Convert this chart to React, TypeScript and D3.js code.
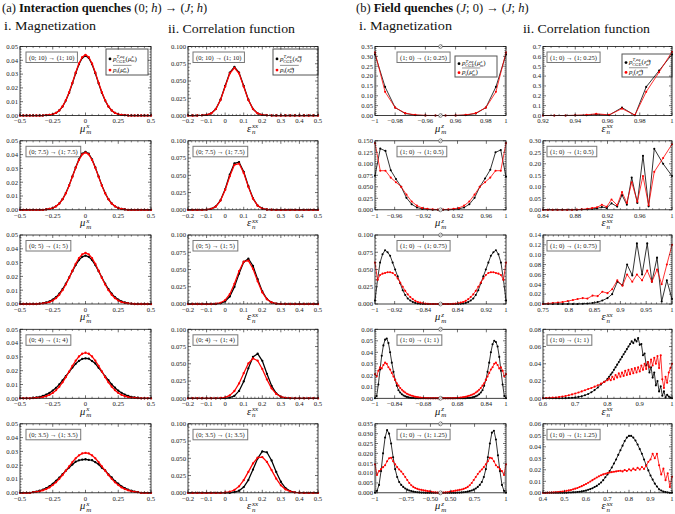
import React, { useLayoutEffect, useRef, useState } from "react";
import * as d3 from "d3";

const FONT = "'Liberation Serif', 'DejaVu Serif', serif";
const RED = "#ff0000";

// ---------------- layout ----------------
const ROW_TOP = [46.5, 140.8, 235, 329.3, 423.8];
const PH = 69;
const COL_X = [20, 188, 375, 543];
const COL_W = [131, 130, 131, 129];

// ---------------- (a) i. magnetization ----------------
const MU_X = [-0.5,-0.475,-0.45,-0.425,-0.4,-0.375,-0.35,-0.325,-0.3,-0.275,-0.25,-0.225,-0.2,-0.175,-0.15,-0.125,-0.1,-0.075,-0.05,-0.025,0,0.025,0.05,0.075,0.1,0.125,0.15,0.175,0.2,0.225,0.25,0.275,0.3,0.325,0.35,0.375,0.4,0.425,0.45,0.475,0.5];
const MAG_H10_CGE = [0,0,0,0,0,0,0,0,.0002,.0004,.0009,.0019,.0037,.0065,.0108,.0165,.0233,.0306,.0371,.0417,.0433,.0417,.0371,.0306,.0233,.0165,.0108,.0065,.0037,.0019,.0009,.0004,.0002,0,0,0,0,0,0,0,0];
const MAG_H10_T = [0,0,0,0,0,0,0,0,.0002,.0004,.0009,.0019,.0037,.0066,.0110,.0168,.0237,.0311,.0377,.0423,.0440,.0423,.0377,.0311,.0237,.0168,.0110,.0066,.0037,.0019,.0009,.0004,.0002,0,0,0,0,0,0,0,0];
const MAG_H75_CGE = [0,0,0,0,0,0,0,0,.0003,.0006,.0013,.0025,.0046,.0077,.0121,.0177,.0242,.0307,.0366,.0406,.0420,.0406,.0366,.0307,.0242,.0177,.0121,.0077,.0046,.0025,.0013,.0006,.0003,0,0,0,0,0,0,0,0];
const MAG_H75_T = [0,0,0,0,0,0,0,0,.0003,.0006,.0013,.0025,.0045,.0076,.0119,.0175,.0239,.0304,.0361,.0401,.0415,.0401,.0361,.0304,.0239,.0175,.0119,.0076,.0045,.0025,.0013,.0006,.0003,0,0,0,0,0,0,0,0];
const MAG_H5_CGE = [0,0,0,0,0,0,.0003,.0006,.0011,.0019,.0032,.0050,.0075,.0108,.0147,.0192,.0238,.0282,.0318,.0342,.0350,.0342,.0318,.0282,.0238,.0192,.0147,.0108,.0075,.0050,.0032,.0019,.0011,.0006,.0003,0,0,0,0,0,0];
const MAG_H5_T = [0,0,0,0,0,0,.0002,.0004,.0008,.0014,.0025,.0042,.0067,.0100,.0141,.0189,.0241,.0291,.0332,.0360,.0370,.0360,.0332,.0291,.0241,.0189,.0141,.0100,.0067,.0042,.0025,.0014,.0008,.0004,.0002,0,0,0,0,0,0];
const MAG_H4_CGE = [0,0,0,0,.0004,.0007,.0011,.0018,.0027,.0039,.0056,.0076,.0101,.0129,.0160,.0192,.0223,.0250,.0271,.0285,.0290,.0287,.0270,.0252,.0221,.0194,.0158,.0131,.0100,.0077,.0055,.0040,.0027,.0018,.0011,.0007,.0004,0,0,0,0];
const MAG_H4_T = [0,0,0,0,.0001,.0003,.0005,.0009,.0015,.0025,.0039,.0059,.0084,.0116,.0153,.0194,.0235,.0272,.0303,.0323,.0330,.0323,.0303,.0272,.0235,.0194,.0153,.0116,.0084,.0059,.0039,.0025,.0015,.0009,.0005,.0003,.0001,0,0,0,0];
const MAG_H35_CGE = [0,0,0,0,.0005,.0009,.0015,.0023,.0034,.0048,.0065,.0087,.0110,.0135,.0160,.0183,.0205,.0225,.0235,.0240,.0243,.0238,.0236,.0222,.0207,.0181,.0162,.0133,.0112,.0085,.0066,.0047,.0034,.0023,.0015,.0009,.0005,0,0,0,0];
const MAG_H35_T = [0,0,0,0,.0004,.0007,.0011,.0018,.0027,.0039,.0056,.0076,.0101,.0129,.0160,.0192,.0223,.0250,.0271,.0285,.0290,.0285,.0271,.0250,.0223,.0192,.0160,.0129,.0101,.0076,.0056,.0039,.0027,.0018,.0011,.0007,.0004,0,0,0,0];

// ---------------- (a) ii. correlation ----------------
const EPS_X = [-0.2,-0.175,-0.15,-0.125,-0.1,-0.075,-0.05,-0.025,0,0.025,0.05,0.075,0.1,0.125,0.15,0.175,0.2,0.225,0.25,0.275,0.3,0.325,0.35,0.375,0.4,0.425,0.45,0.475,0.5];
const COR_H10_CGE = [0,0,0,.0002,.0008,.0031,.0095,.0229,.0428,.0622,.0705,.0622,.0428,.0229,.0095,.0031,.0008,.0002,0,0,0,0,0,0,0,0,0,0,0];
const COR_H10_T = [0,0,0,.0002,.0008,.0030,.0093,.0224,.0419,.0609,.0690,.0609,.0419,.0224,.0093,.0030,.0008,.0002,0,0,0,0,0,0,0,0,0,0,0];
const COR_H75_CGE = [0,0,0,0,.0003,.0014,.0049,.0137,.0297,.0511,.0673,.0690,.0551,.0343,.0166,.0061,.0018,.0004,.0001,0,0,0,0,0,0,0,0,0,0];
const COR_H75_T = [0,0,0,0,.0003,.0013,.0047,.0133,.0288,.0486,.0652,.0670,.0535,.0332,.0161,.0060,.0017,.0004,.0001,0,0,0,0,0,0,0,0,0,0];
const COR_H5_CGE = [0,0,0,0,0,0,0,.0010,.0037,.0109,.0248,.0440,.0609,.0657,.0551,.0360,.0183,.0073,.0022,.0005,.0001,0,0,0,0,0,0,0,0];
const COR_H5_T = [0,0,0,0,0,0,.0004,.0017,.0055,.0143,.0293,.0476,.0614,.0628,.0510,.0329,.0168,.0068,.0022,.0006,.0001,0,0,0,0,0,0,0,0];
const COR_H4_CGE = [0,0,0,0,0,0,0,0,0,.0010,.0036,.0107,.0244,.0434,.0600,.0647,.0543,.0355,.0181,.0072,.0022,.0005,.0001,0,0,0,0,0,0];
const COR_H4_T = [0,0,0,0,0,0,0,.0004,.0014,.0043,.0106,.0216,.0364,.0505,.0578,.0545,.0425,.0273,.0144,.0063,.0023,.0007,.0002,0,0,0,0,0,0];
const COR_H35_CGE = [0,0,0,0,0,0,0,0,0,0,.0009,.0030,.0083,.0185,.0337,.0498,.0600,.0587,.0468,.0303,.0160,.0069,.0024,.0007,.0002,0,0,0,0];
const COR_H35_T = [0,0,0,0,0,0,0,0,.0005,.0015,.0041,.0094,.0183,.0303,.0426,.0510,.0518,.0448,.0329,.0205,.0109,.0049,.0019,.0006,.0002,0,0,0,0];

// ---------------- (b) i. magnetization (bins in index order) ----------------
const FMAG_H025_CGE = [.31,.145,.04,.01,.002,0,0,0,0,.002,.01,.04,.145,.31];
const FMAG_H025_T = [.32,.12,.04,.012,.003,.0005,0,0,.0005,.003,.012,.04,.12,.32];
const FMAG_H05_CGE = [.074,.133,.128,.086,.067,.05,.026,.012,.005,.002,.001,0,0,0,0,.001,.002,.005,.012,.026,.05,.068,.087,.125,.13,.072];
const FMAG_H05_T = [.145,.085,.085,.07,.06,.05,.033,.018,.009,.004,.002,.001,.0005,.0005,.001,.002,.004,.009,.018,.033,.05,.06,.07,.085,.085,.145];
const FMAG_H075_CGE = [.005,.035,.06,.072,.078,.075,.07,.06,.05,.04,.03,.02,.013,.008,.005,.003,.0015,.0008,.0004,.0002,0,0,0,0,0,0,0,0,0,0,0,0,0,.0002,.0004,.0008,.0015,.003,.005,.008,.013,.02,.03,.04,.05,.06,.07,.075,.078,.072,.06,.035,.005];
const FMAG_H075_T = [.06,.035,.042,.044,.045,.046,.046,.045,.042,.037,.031,.025,.019,.014,.01,.007,.0045,.003,.002,.001,.0006,.0003,0,0,0,0,0,0,0,0,0,.0003,.0006,.001,.002,.003,.0045,.007,.01,.014,.019,.025,.031,.037,.042,.045,.046,.046,.045,.044,.042,.035,.06];
const FMAG_H1_CGE = [0,.002,.012,.025,.037,.046,.051,.052,.048,.04,.031,.023,.016,.011,.007,.005,.0035,.0025,.0017,.0012,.0008,.0005,.0003,.0002,.0001,.0001,0,0,0,0,0,0,0,0,0,0,0,0,0,0,0,0,0,0,0,0,0,0,0,0,0,0,0,.0001,.0001,.0002,.0003,.0005,.0008,.0012,.0017,.0025,.0035,.005,.007,.011,.016,.023,.031,.04,.047,.05,.049,.045,.036,.024,.012,.002,0];
const FMAG_H1_T = [.021,.019,.024,.027,.026,.029,.031,.03,.027,.025,.022,.019,.016,.013,.011,.009,.0075,.006,.005,.004,.0033,.0027,.0022,.0018,.0014,.0011,.0008,.0006,.0004,.0003,.0002,.0001,0,0,0,0,0,0,0,0,0,0,0,0,0,0,0,.0001,.0002,.0003,.0004,.0006,.0008,.0011,.0014,.0018,.0022,.0027,.0033,.004,.005,.006,.0075,.009,.011,.013,.016,.019,.022,.025,.027,.03,.031,.029,.026,.027,.024,.019,.021];
const FMAG_H125_CGE = [0,.001,.004,.011,.02,.028,.0318,.03,.025,.018,.012,.008,.0055,.004,.003,.0022,.0016,.0012,.0009,.0006,.0004,.0003,.0002,.0001,.0001,0,0,0,0,0,0,0,0,0,0,0,0,0,0,0,0,.0001,.0001,.0002,.0003,.0004,.0006,.0009,.0012,.0016,.0022,.003,.004,.0055,.008,.012,.018,.025,.0305,.0315,.027,.019,.011,.004,.001,0];
const FMAG_H125_T = [.0145,.009,.011,.012,.013,.014,.016,.0175,.0178,.016,.0145,.013,.0118,.0108,.0095,.008,.0065,.005,.0038,.003,.0024,.002,.0017,.0015,.0013,.0011,.0009,.0007,.0005,.0003,.0002,.0001,.0001,.0001,.0001,.0002,.0003,.0005,.0007,.0009,.0011,.0013,.0015,.0017,.002,.0024,.003,.0038,.005,.0065,.008,.0095,.0108,.0118,.013,.0145,.016,.0178,.0175,.016,.014,.013,.012,.011,.009,.0145];

// tick positions (bin index) and labels for the broken mu^z axes
const FMAG_TICKS_POS = [
  [0, 2, 5, 8, 11, 13],
  [0, 3.75, 9.25, 15.75, 21.25, 25],
  [0, 7.8, 19.2, 32.8, 44.2, 52],
  [0, 11.7, 28.9, 49.1, 66.3, 78],
  [0, 15.6, 27.5, 37.5, 49.4, 65],
];
const FMAG_TICKS_LAB = [
  ["−1", "−0.98", "−0.96", "0.96", "0.98", "1"],
  ["−1", "−0.96", "−0.92", "0.92", "0.96", "1"],
  ["−1", "−0.92", "−0.84", "0.84", "0.92", "1"],
  ["−1", "−0.84", "−0.68", "0.68", "0.84", "1"],
  ["−1", "−0.75", "−0.50", "0.50", "0.75", "1"],
];

// ---------------- (b) ii. correlation ----------------
const FCOR_H025_X = [0.92,0.927,0.934,0.94,0.947,0.953,0.961,0.969,0.977,0.984,0.992,1.0];
const FCOR_H025_CGE = [0,0,0,.001,.003,.01,.004,.08,.002,.29,.455,.62];
const FCOR_H025_T = [0,0,0,.002,.006,.018,.006,.07,.004,.24,.44,.645];
const FCOR_H05_X = [0.84,0.846,0.852,0.858,0.864,0.87,0.876,0.882,0.888,0.895,0.901,0.907,0.913,0.919,0.925,0.932,0.938,0.944,0.95,0.957,0.964,0.971,0.978,0.989,1.0];
const FCOR_H05_CGE = [0,0,0,0,0,0,0,0,.001,.002,.004,.006,.012,.008,.028,.014,.064,.022,.14,.03,.235,.015,.265,.2,.147];
const FCOR_H05_T = [0,0,0,0,0,0,0,.001,.002,.004,.008,.011,.022,.013,.045,.02,.077,.03,.12,.035,.147,.02,.165,.225,.285];
const FCOR_H075_X = [0.75,0.76,0.769,0.779,0.788,0.798,0.808,0.817,0.827,0.836,0.846,0.856,0.865,0.875,0.884,0.894,0.904,0.913,0.923,0.932,0.942,0.952,0.961,0.971,0.98,0.99,1.0];
const FCOR_H075_CGE = [0,0,0,0,0,0,0,0,.0005,.001,.002,.004,.007,.012,.02,.045,.038,.08,.058,.123,.06,.123,.045,.094,.005,.048,.01];
const FCOR_H075_T = [0,.001,.002,.003,.004,.006,.008,.01,.012,.011,.017,.016,.025,.022,.03,.048,.037,.06,.045,.06,.048,.068,.045,.07,.04,.08,.12];
const FCOR_H1_X = [0.6,0.61,0.62,0.63,0.64,0.65,0.66,0.67,0.68,0.69,0.7,0.71,0.72,0.73,0.74,0.75,0.76,0.77,0.78,0.79,0.8,0.805,0.81,0.815,0.82,0.825,0.83,0.835,0.84,0.845,0.85,0.855,0.86,0.865,0.87,0.875,0.88,0.885,0.89,0.895,0.9,0.905,0.91,0.915,0.92,0.925,0.93,0.935,0.94,0.945,0.95,0.955,0.96,0.965,0.97,0.975,0.98,0.985,0.99,0.995,1.0];
const FCOR_H1_CGE = [0,0,0,0,0,0,0,.0002,.0004,.0007,.001,.0016,.0024,.0035,.005,.007,.0095,.0125,.016,.019,.0225,.025,.0275,.030,.033,.036,.039,.042,.045,.048,.051,.054,.057,.060,.063,.066,.064,.068,.066,.070,.062,.063,.050,.052,.038,.042,.030,.036,.024,.030,.015,.020,.008,.014,.003,.008,.001,.004,.002,.001,0];
const FCOR_H1_T = [0,.0003,.0005,.0008,.001,.0015,.002,.0027,.0035,.0045,.0055,.0067,.008,.0093,.0107,.012,.0135,.015,.017,.019,.021,.023,.021,.025,.022,.027,.024,.029,.025,.030,.026,.032,.027,.033,.028,.034,.029,.035,.030,.036,.031,.038,.033,.040,.034,.042,.036,.045,.038,.047,.040,.049,.035,.050,.022,.012,.025,.018,.03,.035,.04];
const FCOR_H125_X = [0.4,0.41,0.42,0.43,0.44,0.45,0.46,0.47,0.48,0.49,0.5,0.51,0.52,0.53,0.54,0.55,0.56,0.57,0.58,0.59,0.6,0.61,0.62,0.63,0.64,0.65,0.66,0.67,0.68,0.69,0.7,0.71,0.72,0.73,0.74,0.75,0.76,0.77,0.78,0.79,0.8,0.81,0.82,0.83,0.84,0.85,0.86,0.87,0.88,0.89,0.9,0.91,0.92,0.93,0.94,0.95,0.96,0.97,0.98,0.99,1.0];
const FCOR_H125_CGE = [0,0,0,0,0,0,0,0,0,0,0,.0001,.0002,.0003,.0004,.0005,.0007,.0009,.0012,.0016,.002,.0026,.0032,.004,.005,.006,.0075,.009,.011,.0135,.016,.019,.022,.0255,.029,.033,.037,.041,.045,.048,.0495,.0495,.048,.0455,.042,.038,.034,.029,.024,.0195,.015,.0115,.008,.0055,.003,.002,.001,.0006,.0003,.0001,0];
const FCOR_H125_T = [0,.0001,.0001,.0002,.0003,.0004,.0005,.0007,.0009,.0011,.0014,.0017,.0021,.0025,.003,.0036,.0042,.005,.0058,.0067,.0077,.0087,.0098,.011,.0122,.0133,.0143,.0152,.016,.0166,.0172,.0176,.018,.0183,.0186,.0189,.0192,.0186,.0198,.019,.0204,.0194,.021,.0198,.0218,.0202,.0225,.0208,.0235,.027,.029,.034,.03,.034,.024,.016,.021,.011,.017,.005,.014];

// ---------------- ticks & labels ----------------
const A_QUENCH = ["(0; 10) → (1; 10)", "(0; 7.5) → (1; 7.5)", "(0; 5) → (1; 5)", "(0; 4) → (1; 4)", "(0; 3.5) → (1; 3.5)"];
const B_QUENCH = ["(1; 0) → (1; 0.25)", "(1; 0) → (1; 0.5)", "(1; 0) → (1; 0.75)", "(1; 0) → (1; 1)", "(1; 0) → (1; 1.25)"];

const MU_XTICKS = [-0.5, -0.25, 0, 0.25, 0.5];
const MU_XLABELS = ["−0.5", "−0.25", "0", "0.25", "0.5"];
const MU_YTICKS = [0, 0.01, 0.02, 0.03, 0.04, 0.05];
const EPS_XTICKS = [-0.2, -0.1, 0, 0.1, 0.2, 0.3, 0.4, 0.5];
const EPS_XLABELS = ["−0.2", "−0.1", "0", "0.1", "0.2", "0.3", "0.4", "0.5"];
const EPS_YTICKS = [0, 0.025, 0.05, 0.075, 0.1];

const FMAG_YTICKS = [
  [0, 0.05, 0.1, 0.15, 0.2, 0.25, 0.3, 0.35],
  [0, 0.025, 0.05, 0.075, 0.1, 0.125, 0.15],
  [0, 0.025, 0.05, 0.075, 0.1],
  [0, 0.01, 0.02, 0.03, 0.04, 0.05, 0.06],
  [0, 0.005, 0.01, 0.015, 0.02, 0.025, 0.03, 0.035],
];
const FMAG_YDEC = [2, 3, 3, 2, 3];

const FCOR_XTICKS = [
  [0.92, 0.94, 0.96, 0.98, 1],
  [0.84, 0.88, 0.92, 0.96, 1],
  [0.75, 0.8, 0.85, 0.9, 0.95, 1],
  [0.6, 0.7, 0.8, 0.9, 1],
  [0.4, 0.5, 0.6, 0.7, 0.8, 0.9, 1],
];
const FCOR_XLABELS = [
  ["0.92", "0.94", "0.96", "0.98", "1"],
  ["0.84", "0.88", "0.92", "0.96", "1"],
  ["0.75", "0.8", "0.85", "0.9", "0.95", "1"],
  ["0.6", "0.7", "0.8", "0.9", "1"],
  ["0.4", "0.5", "0.6", "0.7", "0.8", "0.9", "1"],
];
const FCOR_YTICKS = [
  [0, 0.1, 0.2, 0.3, 0.4, 0.5, 0.6, 0.7],
  [0, 0.05, 0.1, 0.15, 0.2, 0.25, 0.3],
  [0, 0.02, 0.04, 0.06, 0.08, 0.1, 0.12, 0.14],
  [0, 0.02, 0.04, 0.06, 0.08],
  [0, 0.01, 0.02, 0.03, 0.04, 0.05, 0.06],
];
const FCOR_YDEC = [1, 2, 2, 2, 2];

// ---------------- panel table built from arrays ----------------
type Series = { x: number[]; y: number[]; color: string };
type PanelSpec = {
  col: number; row: number;
  xDomain: [number, number]; xTicks: number[]; xLabels: string[]; xMinor: boolean;
  yTicks: number[]; yDec: number;
  series: Series[]; quench: string; brk: boolean; dense: boolean;
};

const idx = (arr: number[]) => arr.map((_, i) => i);

const MAG_A = [[MAG_H10_CGE, MAG_H10_T], [MAG_H75_CGE, MAG_H75_T], [MAG_H5_CGE, MAG_H5_T], [MAG_H4_CGE, MAG_H4_T], [MAG_H35_CGE, MAG_H35_T]];
const COR_A = [[COR_H10_CGE, COR_H10_T], [COR_H75_CGE, COR_H75_T], [COR_H5_CGE, COR_H5_T], [COR_H4_CGE, COR_H4_T], [COR_H35_CGE, COR_H35_T]];
const MAG_B = [[FMAG_H025_CGE, FMAG_H025_T], [FMAG_H05_CGE, FMAG_H05_T], [FMAG_H075_CGE, FMAG_H075_T], [FMAG_H1_CGE, FMAG_H1_T], [FMAG_H125_CGE, FMAG_H125_T]];
const COR_B = [[FCOR_H025_X, FCOR_H025_CGE, FCOR_H025_T], [FCOR_H05_X, FCOR_H05_CGE, FCOR_H05_T], [FCOR_H075_X, FCOR_H075_CGE, FCOR_H075_T], [FCOR_H1_X, FCOR_H1_CGE, FCOR_H1_T], [FCOR_H125_X, FCOR_H125_CGE, FCOR_H125_T]];

const PANELS: PanelSpec[] = [];
for (let r = 0; r < 5; r++) {
  PANELS.push({
    col: 0, row: r, xDomain: [-0.5, 0.5], xTicks: MU_XTICKS, xLabels: MU_XLABELS, xMinor: true,
    yTicks: MU_YTICKS, yDec: 2, quench: A_QUENCH[r], brk: false, dense: true,
    series: [{ x: MU_X, y: MAG_A[r][0], color: "#000" }, { x: MU_X, y: MAG_A[r][1], color: RED }],
  });
  PANELS.push({
    col: 1, row: r, xDomain: [-0.2, 0.5], xTicks: EPS_XTICKS, xLabels: EPS_XLABELS, xMinor: true,
    yTicks: EPS_YTICKS, yDec: 3, quench: A_QUENCH[r], brk: false, dense: true,
    series: [{ x: EPS_X, y: COR_A[r][0], color: "#000" }, { x: EPS_X, y: COR_A[r][1], color: RED }],
  });
  const n = MAG_B[r][0].length;
  PANELS.push({
    col: 2, row: r, xDomain: [0, n - 1], xTicks: FMAG_TICKS_POS[r], xLabels: FMAG_TICKS_LAB[r], xMinor: false,
    yTicks: FMAG_YTICKS[r], yDec: FMAG_YDEC[r], quench: B_QUENCH[r], brk: true, dense: false,
    series: [{ x: idx(MAG_B[r][0]), y: MAG_B[r][0], color: "#000" }, { x: idx(MAG_B[r][1]), y: MAG_B[r][1], color: RED }],
  });
  const xt = FCOR_XTICKS[r];
  PANELS.push({
    col: 3, row: r, xDomain: [xt[0], xt[xt.length - 1]], xTicks: xt, xLabels: FCOR_XLABELS[r], xMinor: true,
    yTicks: FCOR_YTICKS[r], yDec: FCOR_YDEC[r], quench: B_QUENCH[r], brk: false, dense: false,
    series: [{ x: COR_B[r][0], y: COR_B[r][1], color: "#000" }, { x: COR_B[r][0], y: COR_B[r][2], color: RED }],
  });
}

// ---------------- components ----------------
function QuenchBox({ x, y, text }: { x: number; y: number; text: string }) {
  const ref = useRef<SVGTextElement>(null);
  const [w, setW] = useState(50);
  useLayoutEffect(() => {
    if (ref.current) setW(ref.current.getComputedTextLength());
  }, [text]);
  return (
    <g>
      <rect x={x} y={y} width={w + 6} height={10.5} fill="#fff" stroke="#777" strokeWidth={1} />
      <text ref={ref} x={x + 3} y={y + 7.5} fontFamily={FONT} fontSize={6.6} fill="#222">{text}</text>
    </g>
  );
}

function minorTicks(ticks: number[], sub: number) {
  const out: number[] = [];
  for (let i = 0; i < ticks.length - 1; i++) {
    const a = ticks[i], b = ticks[i + 1];
    for (let j = 1; j < sub; j++) out.push(a + ((b - a) * j) / sub);
  }
  return out;
}

function AxisSymbol({ cx, y, base, sup, sub }: { cx: number; y: number; base: string; sup: string; sub: string }) {
  const baseW = base === "μ" ? 6 : 4.6;
  const supW = sup.length * 3.6;
  const subW = sub.length * 5;
  const total = baseW + Math.max(supW, subW);
  const x = cx - total / 2;
  return (
    <g fontFamily={FONT} fontStyle="italic" fill="#111">
      <text x={x} y={y} fontSize={10.5}>{base}</text>
      <text x={x + baseW + 0.3} y={y - 3.4} fontSize={7}>{sup}</text>
      <text x={x + baseW + 0.3} y={y + 2.6} fontSize={7}>{sub}</text>
    </g>
  );
}

function LegendLabel({ x, y, v, sup, sub, cge, onW }: { x: number; y: number; v: string; sup: string; sub: string; cge: boolean; onW?: (w: number) => void }) {
  const ref = useRef<SVGTextElement>(null);
  useLayoutEffect(() => {
    if (ref.current && onW) onW(ref.current.getComputedTextLength());
  }, []);
  const fs = 7;
  const ss = 4.7;
  const supW = sup.length * 2.4;
  return (
    <text ref={ref} x={x} y={y} fontFamily={FONT} fontSize={fs} fill="#111">
      <tspan fontStyle="italic">p</tspan>
      {cge ? (
        <>
          <tspan dy={-2.9} fontSize={ss} fontStyle="italic">T,eq</tspan>
          <tspan dx={-8.2} dy={4.9} fontSize={ss}>CGE</tspan>
          <tspan dy={-2}>(</tspan>
        </>
      ) : (
        <>
          <tspan dy={1.4} fontSize={ss}>t</tspan>
          <tspan dy={-1.4}>(</tspan>
        </>
      )}
      <tspan fontStyle="italic">{v}</tspan>
      <tspan dy={-2.3} fontSize={ss} fontStyle="italic">{sup}</tspan>
      <tspan dx={-supW} dy={3.9} fontSize={ss} fontStyle="italic">{sub}</tspan>
      <tspan dy={-1.6}>)</tspan>
    </text>
  );
}

function Legend({ col, x, y, w, h, v }: { col: number; x: number; y: number; w: number; h: number; v: string }) {
  const sup = col === 2 ? "z" : col === 0 ? "x" : "xx";
  const sub = v === "μ" ? "m" : "n";
  const [ow, setOw] = useState(22);
  const y1 = y + h * 0.45;
  const y2 = y + h * 0.88;
  return (
    <g>
      <rect x={x} y={y} width={w} height={h} fill="#fff" stroke="#555" strokeWidth={1} />
      <circle cx={x + 4} cy={y1 - 1.8} r={1.4} fill="#000" />
      <LegendLabel x={x + 7} y={y1} v={v} sup={sup} sub={sub} cge={true} />
      <circle cx={x + 4} cy={y2 - 1.8} r={1.4} fill={RED} />
      <line x1={x + 7} x2={x + 7 + ow} y1={y2 - 6.5} y2={y2 - 6.5} stroke="#111" strokeWidth={0.45} />
      <LegendLabel x={x + 7} y={y2} v={v} sup={sup} sub={sub} cge={false} onW={setOw} />
    </g>
  );
}

const LEGEND_GEOM = [
  { dx: -3, dy: 2.5, w: 42, h: 26 },
  { dx: 0, dy: 2.5, w: 45, h: 26 },
  { dx: -9, dy: 9.5, w: 42, h: 21 },
  { dx: 0, dy: 7.5, w: 50, h: 23 },
];
const QUENCH_DX = [6, 5, 22, 4];

function Panel({ p }: { p: PanelSpec }) {
  const x0 = COL_X[p.col];
  const w = COL_W[p.col];
  const y0 = ROW_TOP[p.row];
  const h = PH;
  const yMax = p.yTicks[p.yTicks.length - 1];
  const xs = d3.scaleLinear().domain(p.xDomain).range([x0, x0 + w]);
  const ys = d3.scaleLinear().domain([0, yMax]).range([y0 + h, y0]);
  const majL = 3;
  const minL = 1.6;
  const xMinorVals = p.xMinor ? minorTicks(p.xTicks, p.col === 3 && p.row === 0 ? 4 : 5) : [];
  const yMinorVals = minorTicks(p.yTicks, 5);
  const lw = p.dense ? 1.25 : 0.8;
  const mr = p.dense ? 1.15 : 1.05;
  const v = p.col === 0 || p.col === 2 ? "μ" : "ε";
  const sup = p.col === 0 ? "x" : p.col === 2 ? "z" : "xx";
  const sub = p.col === 0 || p.col === 2 ? "m" : "n";
  const lg = LEGEND_GEOM[p.col];
  const bottom = y0 + h;
  return (
    <g>
      {p.row === 0 && (
        <Legend col={p.col} x={x0 + w + lg.dx - lg.w} y={y0 + lg.dy} w={lg.w} h={lg.h} v={v} />
      )}
      <QuenchBox x={x0 + QUENCH_DX[p.col]} y={y0 + 5.5} text={p.quench} />
      {p.series.map((s, si) => {
        const pts = s.x.map((xv, i) => [xs(xv), ys(s.y[i])] as [number, number]);
        return (
          <g key={si}>
            <path d={d3.line()(pts) || ""} fill="none" stroke={s.color} strokeWidth={lw} strokeLinejoin="round" />
            {pts.map((pt, i) => (
              <circle key={i} cx={pt[0]} cy={pt[1]} r={mr} fill={s.color} />
            ))}
          </g>
        );
      })}
      <rect x={x0} y={y0} width={w} height={h} fill="none" stroke="#111" strokeWidth={0.8} />
      {p.xTicks.map((t, i) => (
        <g key={"xt" + i}>
          <line x1={xs(t)} x2={xs(t)} y1={bottom} y2={bottom - majL} stroke="#111" strokeWidth={0.6} />
          <line x1={xs(t)} x2={xs(t)} y1={y0} y2={y0 + majL} stroke="#111" strokeWidth={0.6} />
          <text x={xs(t)} y={bottom + 7.8} textAnchor="middle" fontFamily={FONT} fontSize={6.7} fill="#222">{p.xLabels[i]}</text>
        </g>
      ))}
      {xMinorVals.map((t, i) => (
        <g key={"xm" + i}>
          <line x1={xs(t)} x2={xs(t)} y1={bottom} y2={bottom - minL} stroke="#111" strokeWidth={0.5} />
          <line x1={xs(t)} x2={xs(t)} y1={y0} y2={y0 + minL} stroke="#111" strokeWidth={0.5} />
        </g>
      ))}
      {p.yTicks.map((t, i) => (
        <g key={"yt" + i}>
          <line x1={x0} x2={x0 + majL} y1={ys(t)} y2={ys(t)} stroke="#111" strokeWidth={0.6} />
          <line x1={x0 + w} x2={x0 + w - majL} y1={ys(t)} y2={ys(t)} stroke="#111" strokeWidth={0.6} />
          <text x={x0 - 2} y={ys(t) + 2.3} textAnchor="end" fontFamily={FONT} fontSize={6.7} fill="#222">{t.toFixed(p.yDec)}</text>
        </g>
      ))}
      {yMinorVals.map((t, i) => (
        <g key={"ym" + i}>
          <line x1={x0} x2={x0 + minL} y1={ys(t)} y2={ys(t)} stroke="#111" strokeWidth={0.5} />
          <line x1={x0 + w} x2={x0 + w - minL} y1={ys(t)} y2={ys(t)} stroke="#111" strokeWidth={0.5} />
        </g>
      ))}
      {p.brk && [y0, bottom].map((yy, i) => {
        const cx = xs((p.xDomain[0] + p.xDomain[1]) / 2);
        return (
          <g key={"b" + i}>
            <ellipse cx={cx} cy={yy} rx={1.7} ry={2} fill="#fff" stroke="#444" strokeWidth={0.6} />
            <line x1={cx - 1.5} y1={yy + 1.9} x2={cx + 1.5} y2={yy - 1.9} stroke="#444" strokeWidth={0.5} />
          </g>
        );
      })}
      <AxisSymbol cx={x0 + w / 2} y={bottom + 16.3} base={v} sup={sup} sub={sub} />
    </g>
  );
}

export default function App() {
  return (
    <svg width={675} height={514} style={{ display: "block", position: "absolute", left: 0, top: 0, background: "#fff" }}>
      <rect x={0} y={0} width={675} height={514} fill="#fff" />
      <text x={2} y={11.5} fontFamily={FONT} fontSize={12.5} fill="#111">
        <tspan>(a) </tspan>
        <tspan fontWeight="bold">Interaction quenches</tspan>
        <tspan>{"  (0; "}</tspan>
        <tspan fontStyle="italic">h</tspan>
        <tspan>{") → ("}</tspan>
        <tspan fontStyle="italic">J</tspan>
        <tspan>{"; "}</tspan>
        <tspan fontStyle="italic">h</tspan>
        <tspan>)</tspan>
      </text>
      <text x={356} y={11.5} fontFamily={FONT} fontSize={12.5} fill="#111">
        <tspan>(b) </tspan>
        <tspan fontWeight="bold">Field quenches</tspan>
        <tspan>{"  ("}</tspan>
        <tspan fontStyle="italic">J</tspan>
        <tspan>{"; 0) → ("}</tspan>
        <tspan fontStyle="italic">J</tspan>
        <tspan>{"; "}</tspan>
        <tspan fontStyle="italic">h</tspan>
        <tspan>)</tspan>
      </text>
      <text x={4} y={30} fontFamily={FONT} fontSize={13} textLength={92} lengthAdjust="spacingAndGlyphs" fill="#111">i. Magnetization</text>
      <text x={168} y={33} fontFamily={FONT} fontSize={13} textLength={127} lengthAdjust="spacingAndGlyphs" fill="#111">ii. Correlation function</text>
      <text x={359} y={30} fontFamily={FONT} fontSize={13} textLength={93} lengthAdjust="spacingAndGlyphs" fill="#111">i. Magnetization</text>
      <text x={523} y={33} fontFamily={FONT} fontSize={13} textLength={127} lengthAdjust="spacingAndGlyphs" fill="#111">ii. Correlation function</text>
      {PANELS.map((p, i) => (
        <Panel key={i} p={p} />
      ))}
    </svg>
  );
}
